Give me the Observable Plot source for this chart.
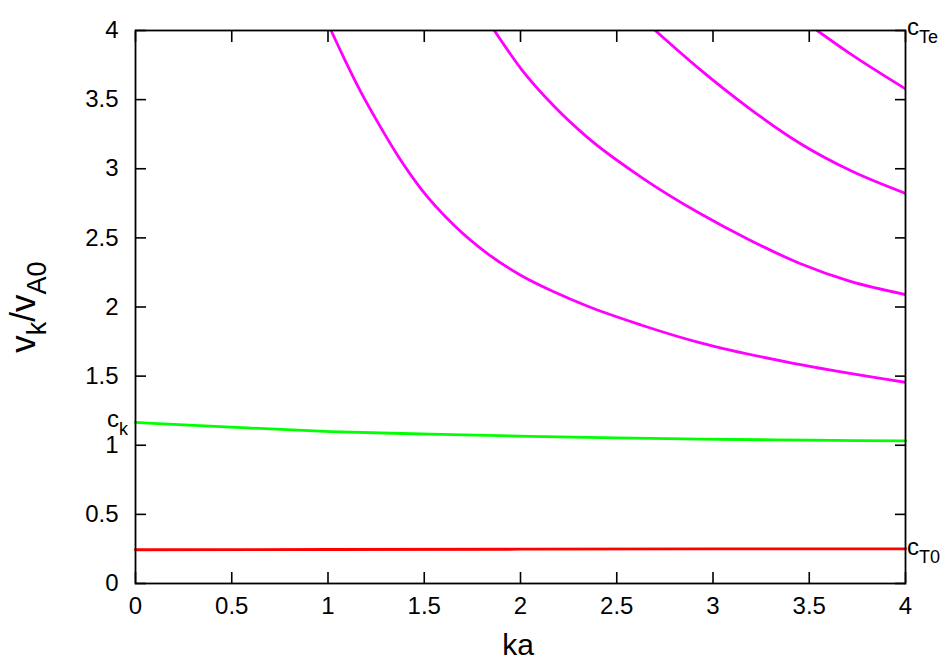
<!DOCTYPE html>
<html>
<head>
<meta charset="utf-8">
<script src="https://cdn.jsdelivr.net/npm/d3@7"></script>
<script src="https://cdn.jsdelivr.net/npm/@observablehq/plot@0.6"></script>
<style>
  html, body { margin: 0; padding: 0; background: #fff; }
  svg { display: block; }
</style>
</head>
<body>
<div id="chart"></div>
<script>
// ---- data ----
const xTicks = [0, 0.5, 1, 1.5, 2, 2.5, 3, 3.5, 4];
const yTicks = [0, 0.5, 1, 1.5, 2, 2.5, 3, 3.5, 4];

const mode1Ka = [1.016, 1.085, 1.171, 1.258, 1.362, 1.483, 1.656, 1.830, 2.003, 2.176, 2.349, 2.626, 2.935, 3.455, 4.0];
const mode1V  = [4.0,   3.795, 3.554, 3.337, 3.096, 2.855, 2.590, 2.385, 2.228, 2.108, 2.005, 1.870, 1.740, 1.583, 1.455];

const mode2Ka = [1.864, 2.003, 2.176, 2.349, 2.626, 2.935, 3.195, 3.455, 3.714, 4.0];
const mode2V  = [4.0,   3.723, 3.450, 3.225, 2.940, 2.674, 2.481, 2.313, 2.185, 2.090];

const mode3Ka = [2.700, 2.935, 3.195, 3.455, 3.714, 4.0];
const mode3V  = [4.0,   3.715, 3.430, 3.181, 2.987, 2.822];

const mode4Ka = [3.541, 3.714, 4.0];
const mode4V  = [4.0,   3.831, 3.578];

const kinkKa = [0, 0.494, 1.013, 1.532, 2.05, 2.5, 2.935, 3.5, 4.0];
const kinkV  = [1.165, 1.131, 1.099, 1.080, 1.064, 1.053, 1.044, 1.037, 1.031];

const slowKa = [0, 1, 2, 3, 4];
const slowV  = [0.244, 0.246, 0.248, 0.250, 0.251];

const cK = 1.17, cTe = 4.0, cT0 = 0.248;

// ---- build rows ----
const rows = (xs, ys) => xs.map((x, i) => ({ka: x, v: ys[i]}));
const modes = [rows(mode1Ka, mode1V), rows(mode2Ka, mode2V), rows(mode3Ka, mode3V), rows(mode4Ka, mode4V)];

const FONT = "'Liberation Sans', Arial, Helvetica, sans-serif";

const plot = Plot.plot({
  width: 948,
  height: 662,
  marginLeft: 135,
  marginRight: 43,
  marginTop: 30,
  marginBottom: 79,
  x: {domain: [0, 4], label: null},
  y: {domain: [0, 4], label: null},
  style: {fontFamily: FONT, fontSize: "24px", background: "white", color: "black"},
  marks: [
    ...modes.map(m => Plot.line(m, {x: "ka", y: "v", stroke: "#ff00ff", strokeWidth: 2.8, curve: "monotone-x", clip: true})),
    Plot.line(rows(kinkKa, kinkV), {x: "ka", y: "v", stroke: "#00ff00", strokeWidth: 2.8, curve: "monotone-x"}),
    Plot.line(rows(slowKa, slowV), {x: "ka", y: "v", stroke: "#ff0000", strokeWidth: 2.8}),
    Plot.frame({stroke: "black", strokeWidth: 1.8}),
    // inward ticks on all four sides
    Plot.axisX(xTicks, {anchor: "bottom", tickSize: 11, insetBottom: 11, fill: "none", strokeWidth: 1.6, label: null}),
    Plot.axisX(xTicks, {anchor: "top", tickSize: 11, insetTop: 11, fill: "none", strokeWidth: 1.6, label: null}),
    Plot.axisY(yTicks, {anchor: "left", tickSize: 11, insetLeft: 11, fill: "none", strokeWidth: 1.6, label: null}),
    Plot.axisY(yTicks, {anchor: "right", tickSize: 11, insetRight: 11, fill: "none", strokeWidth: 1.6, label: null}),
    // tick labels
    Plot.axisX(xTicks, {anchor: "bottom", tickSize: 0, tickPadding: 13, stroke: "none", fill: "black", fontSize: 24, tickFormat: d => String(d), label: null}),
    Plot.axisY(yTicks, {anchor: "left", tickSize: 0, tickPadding: 17, stroke: "none", fill: "black", fontSize: 24, tickFormat: d => String(d), label: null})
  ]
});

document.getElementById("chart").appendChild(plot);

// ---- rich text labels (with subscripts) ----
const NS = "http://www.w3.org/2000/svg";
const svg = plot.tagName.toLowerCase() === "svg" ? plot : plot.querySelector("svg");
const sx = plot.scale("x"), sy = plot.scale("y");

function richText(x, y, parts, {anchor = "start", size = 24, subSize = 18, subDy = 8, rotate = 0} = {}) {
  const t = document.createElementNS(NS, "text");
  t.setAttribute("x", x);
  t.setAttribute("y", y);
  t.setAttribute("text-anchor", anchor);
  t.setAttribute("font-family", FONT);
  t.setAttribute("fill", "black");
  if (rotate) t.setAttribute("transform", `rotate(${rotate} ${x} ${y})`);
  let shifted = false;
  for (const [str, sub] of parts) {
    const s = document.createElementNS(NS, "tspan");
    s.textContent = str;
    s.setAttribute("font-size", sub ? subSize : size);
    let dy = 0;
    if (sub && !shifted) { dy = subDy; shifted = true; }
    else if (!sub && shifted) { dy = -subDy; shifted = false; }
    s.setAttribute("dy", dy);
    t.appendChild(s);
  }
  svg.appendChild(t);
  return t;
}

// axis titles
richText(518, 655, [["ka", false]], {anchor: "middle", size: 30});
richText(35, 307, [["v", false], ["k", true], ["/v", false], ["A0", true]], {anchor: "middle", size: 35, subSize: 27, subDy: 11, rotate: -90});

// curve labels
richText(sx.apply(0) - 7, sy.apply(cK) + 6, [["c", false], ["k", true]], {anchor: "end", size: 24, subSize: 18, subDy: 8});
richText(sx.apply(4) + 2, sy.apply(cTe) + 5, [["c", false], ["Te", true]], {anchor: "start", size: 24, subSize: 18, subDy: 8});
richText(sx.apply(4) + 2, sy.apply(cT0) + 6, [["c", false], ["T0", true]], {anchor: "start", size: 24, subSize: 18, subDy: 8});
</script>
</body>
</html>
